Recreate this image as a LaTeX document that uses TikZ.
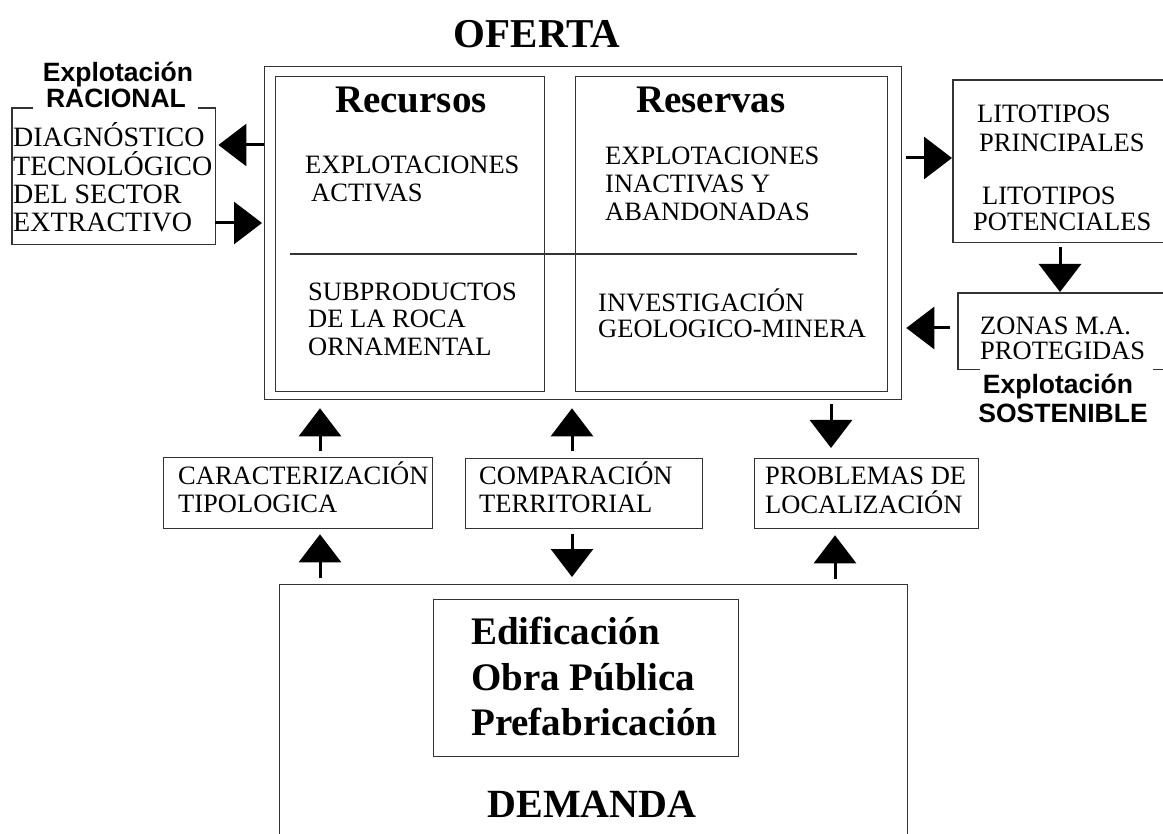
\documentclass[tikz,border=0pt]{standalone}
\usepackage{fontspec}
\setmainfont{Liberation Serif}
\newfontfamily\lsans{Liberation Sans}
\usetikzlibrary{arrows.meta}
\begin{document}
\begin{tikzpicture}[x=1pt,y=-1pt,
  box/.style={draw=black!80, line width=1.3pt, inner sep=0pt, anchor=north west},
  frame/.style={inner sep=0pt, anchor=north west},
  boxline/.style={draw=black!80, line width=1.3pt},
  lbl/.style={inner sep=0pt, anchor=base west, font=\fontsize{26.5}{28}\selectfont},
  lblb/.style={inner sep=0pt, anchor=base west, font=\fontsize{28}{28}\selectfont},
  big/.style={inner sep=0pt, anchor=base west, font=\fontsize{39}{40}\selectfont\bfseries},
  huge/.style={inner sep=0pt, anchor=base, font=\fontsize{41}{42}\selectfont\bfseries},
  sanslbl/.style={inner sep=0pt, anchor=base, font=\fontsize{26.5}{27}\selectfont\lsans\bfseries},
  arr/.style={line width=3pt, -{Triangle[length=28pt,width=42pt]}},
]
\useasboundingbox (0,0) rectangle (1163,834);

% ---------- OFERTA ----------
\node[huge] (tof) at (537,48) {OFERTA};
\node[box, minimum width=637pt, minimum height=333pt] (oferta) at (264,66) {};
\node[box, minimum width=269pt, minimum height=315pt] (recur) at (275,76) {};
\node[box, minimum width=312pt, minimum height=315pt] (reser) at (575,76) {};
\draw[boxline] (290,254) -- (857,254);

\node[big] (trec) at (335,113) {Recursos};
\node[big] (tres) at (636,113) {Reservas};
\node[lbl] (ea1) at (305,174) {EXPLOTACIONES};
\node[lbl] (ea2) at (311,202) {ACTIVAS};
\node[lbl] (ei1) at (605,165) {EXPLOTACIONES};
\node[lbl] (ei2) at (605,193) {INACTIVAS Y};
\node[lbl] (ei3) at (605,221) {ABANDONADAS};
\node[lbl] (sp1) at (308,301) {SUBPRODUCTOS};
\node[lbl] (sp2) at (308,328) {DE LA ROCA};
\node[lbl] (sp3) at (308,356) {ORNAMENTAL};
\node[lbl] (ig1) at (598,312) {INVESTIGACIÓN};
\node[lbl] (ig2) at (598,338) {GEOLOGICO-MINERA};

% ---------- left box ----------
\node[frame, minimum width=203pt, minimum height=136pt] (diag) at (12,108) {};
\draw[boxline] ([xshift=21pt]diag.north west) -- (diag.north west) -- (diag.south west)
  -- (diag.south east) -- (diag.north east) -- ([xshift=-17pt]diag.north east);
\node[sanslbl] (xr1) at (118,82) {Explotación};
\node[sanslbl] (xr2) at (116,108) {RACIONAL};
\node[lblb] (dg1) at (13,147) {DIAGNÓSTICO};
\node[lblb] (dg2) at (13,176) {TECNOLÓGICO};
\node[lblb] (dg3) at (13,204) {DEL SECTOR};
\node[lblb] (dg4) at (13,232) {EXTRACTIVO};

% ---------- right boxes ----------
\node[frame, minimum width=222pt, minimum height=162pt] (lito) at (953,80) {};
\draw[boxline] (lito.north east) -- (lito.north west) -- (lito.south west) -- (lito.south east);
\node[lbl] (lt1) at (977,123) {LITOTIPOS};
\node[lbl] (lt2) at (979,152) {PRINCIPALES};
\node[lbl] (lt3) at (982,205) {LITOTIPOS};
\node[lbl] (lt4) at (973,231) {POTENCIALES};

\node[frame, minimum width=217pt, minimum height=76pt] (zonas) at (958,293) {};
\draw[boxline] (zonas.north east) -- (zonas.north west) -- (zonas.south west) -- ([xshift=22pt]zonas.south west);
\draw[boxline] ([xshift=-22pt]zonas.south east) -- (zonas.south east);
\node[lbl] (zn1) at (980,335) {ZONAS M.A.};
\node[lbl] (zn2) at (980,360) {PROTEGIDAS};
\node[sanslbl] (xs1) at (1058,394) {Explotación};
\node[sanslbl] (xs2) at (1063,423) {SOSTENIBLE};

% ---------- middle boxes ----------
\node[box, minimum width=269pt, minimum height=71pt] (caract) at (163,457) {};
\node[lbl] (ca1) at (178,484) {CARACTERIZACIÓN};
\node[lbl] (ca2) at (178,512) {TIPOLOGICA};
\node[box, minimum width=237pt, minimum height=70pt] (compar) at (465,458) {};
\node[lbl] (co1) at (479,484) {COMPARACIÓN};
\node[lbl] (co2) at (479,512) {TERRITORIAL};
\node[box, minimum width=224pt, minimum height=70pt] (probl) at (754,458) {};
\node[lbl] (pr1) at (765,485) {PROBLEMAS DE};
\node[lbl] (pr2) at (765,513) {LOCALIZACIÓN};

% ---------- DEMANDA ----------
\node[box, minimum width=628pt, minimum height=300pt] (demanda) at (279,584) {};
\node[box, minimum width=305pt, minimum height=157pt] (usos) at (433,599) {};
\node[big] (u1) at (471,644) {Edificación};
\node[big] (u2) at (471,690) {Obra Pública};
\node[big] (u3) at (471,735) {Prefabricación};
\node[huge, font=\fontsize{40}{42}\selectfont\bfseries] (tdem) at (592,817) {DEMANDA};

% ---------- arrows ----------
\coordinate (c320) at (320,0);
\coordinate (c572) at (572,0);
\coordinate (c831) at (831,0);
\coordinate (c835) at (835,0);
\coordinate (c1060) at (1060,0);
\coordinate (r145) at (0,145);
\coordinate (r223) at (0,223);
\coordinate (r158) at (0,158);
\coordinate (r328) at (0,328);

\draw[arr, shorten <=6pt, shorten >=8pt] (caract.north -| c320) -- (oferta.south -| c320);
\draw[arr, shorten <=7pt, shorten >=8pt] (compar.north -| c572) -- (oferta.south -| c572);
\draw[arr, shorten <=4pt, shorten >=10pt] (oferta.south -| c831) -- (probl.north -| c831);
\draw[arr, shorten <=6pt, shorten >=5pt] (demanda.north -| c320) -- (caract.south -| c320);
\draw[arr, shorten <=5pt, shorten >=7pt] (compar.south -| c572) -- (demanda.north -| c572);
\draw[arr, shorten <=5pt, shorten >=6pt] (demanda.north -| c835) -- (probl.south -| c835);

\draw[arr, shorten >=3pt] (oferta.west |- r145) -- (diag.east |- r145);
\draw[arr, shorten >=2pt] (diag.east |- r223) -- (oferta.west |- r223);
\draw[arr, shorten <=4pt, shorten >=1pt] (oferta.east |- r158) -- (lito.west |- r158);
\draw[arr, shorten <=5pt, shorten >=1pt] (lito.south -| c1060) -- (zonas.north -| c1060);
\draw[arr, shorten <=8pt, shorten >=4pt] (zonas.west |- r328) -- (oferta.east |- r328);
\end{tikzpicture}
\end{document}
